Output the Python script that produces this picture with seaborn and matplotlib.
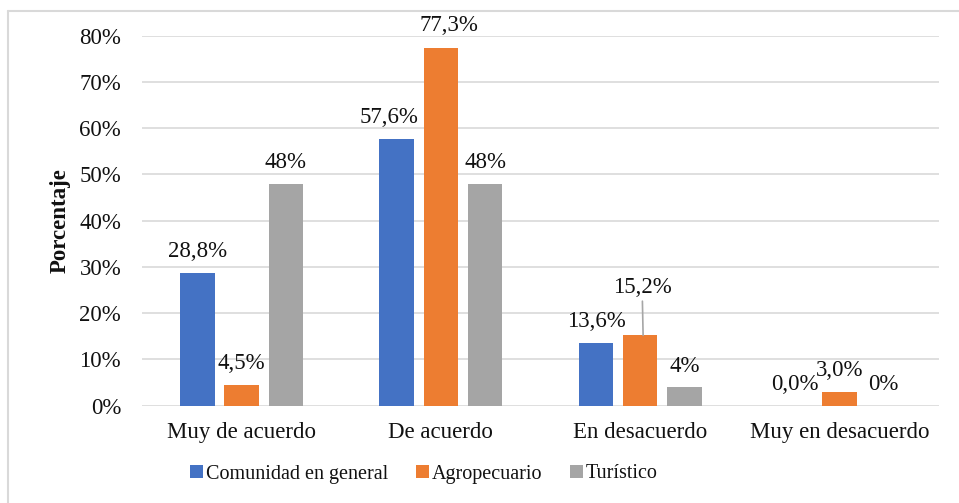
import pandas as pd
import matplotlib.pyplot as plt
import seaborn as sns
from matplotlib.lines import Line2D

categorias = ["Muy de acuerdo", "De acuerdo", "En desacuerdo", "Muy en desacuerdo"]
series = ["Comunidad en general", "Agropecuario", "Turístico"]
comunidad = [28.8, 57.6, 13.6, 0.0]
agropecuario = [4.5, 77.3, 15.2, 3.0]
turistico = [48, 48, 4, 0]
etiquetas = [
    ["28,8%", "57,6%", "13,6%", "0,0%"],
    ["4,5%", "77,3%", "15,2%", "3,0%"],
    ["48%", "48%", "4%", "0%"],
]
colores = ["#4472C4", "#ED7D31", "#A5A5A5"]

df = pd.DataFrame({
    "categoria": categorias * 3,
    "serie": [s for s in series for _ in categorias],
    "valor": comunidad + agropecuario + turistico,
})

sns.set_theme(style="white")
plt.rcParams["font.family"] = ["Liberation Serif", "DejaVu Serif"]
fuente = 16.5
negro = "#111111"

fig = plt.figure(figsize=(9.59, 5.03), dpi=100)
ax = fig.add_axes([142 / 959, 1 - 405.7 / 503, 797 / 959, 370 / 503])

sns.barplot(data=df, x="categoria", y="valor", hue="serie", palette=colores,
            saturation=1, width=0.665, gap=0.22, linewidth=0, ax=ax)

ax.set_ylim(0, 80)
ax.set_xlim(-0.5, 3.5)
ax.set_yticks(range(0, 81, 10))
ax.set_yticklabels([f"{v}%" for v in range(0, 81, 10)])
ax.yaxis.grid(True, color="#d9d9d9", linewidth=1.2)
ax.set_axisbelow(True)
for s in ax.spines.values():
    s.set_visible(False)
ax.tick_params(axis="y", length=0, pad=15, labelsize=fuente, labelcolor=negro)
ax.tick_params(axis="x", length=0, pad=12, labelsize=fuente, labelcolor=negro)
ax.set_xlabel("")
ax.set_ylabel("Porcentaje", fontsize=16.5, fontweight="bold", color=negro)
ax.yaxis.set_label_coords(-0.09, 0.5)

# desplazamientos (px) de algunas etiquetas
desplaz = {(0, 1): (-8, 22), (1, 1): (8, 23), (1, 2): (-1, 48)}
for i, cont in enumerate(ax.containers):
    for j, bar in enumerate(cont):
        cx = bar.get_x() + bar.get_width() / 2
        dx, dy = desplaz.get((i, j), (0, 21))
        flecha = None
        if (i, j) == (1, 2):
            flecha = dict(arrowstyle="-", color="#a6a6a6", lw=1.2, shrinkA=0, shrinkB=0)
        ax.annotate(etiquetas[i][j], xy=(cx + 0.015 if flecha else cx, bar.get_height()),
                    xytext=(dx, dy), textcoords="offset pixels",
                    ha="center", va="center", fontsize=fuente, color=negro,
                    arrowprops=flecha)

handles, labels = ax.get_legend_handles_labels()
ax.get_legend().remove()
leg = fig.legend(handles, labels, loc="center", bbox_to_anchor=(424 / 959, 1 - 474 / 503),
                 ncol=3, frameon=False, prop={"family": "Liberation Serif", "size": 14.5},
                 handlelength=0.62, handleheight=0.62,
                 handletextpad=0.15, columnspacing=1.4, labelcolor=negro)
for t in leg.get_texts():
    t.set_fontfamily("Liberation Serif")

# marco del gráfico
fig.add_artist(Line2D([8 / 959, 8 / 959], [0, 1 - 10.5 / 503], color="#d9d9d9", lw=1.5))
fig.add_artist(Line2D([8 / 959, 1], [1 - 10.5 / 503, 1 - 10.5 / 503], color="#d9d9d9", lw=1.5))

fig.savefig("out.png", dpi=100)
